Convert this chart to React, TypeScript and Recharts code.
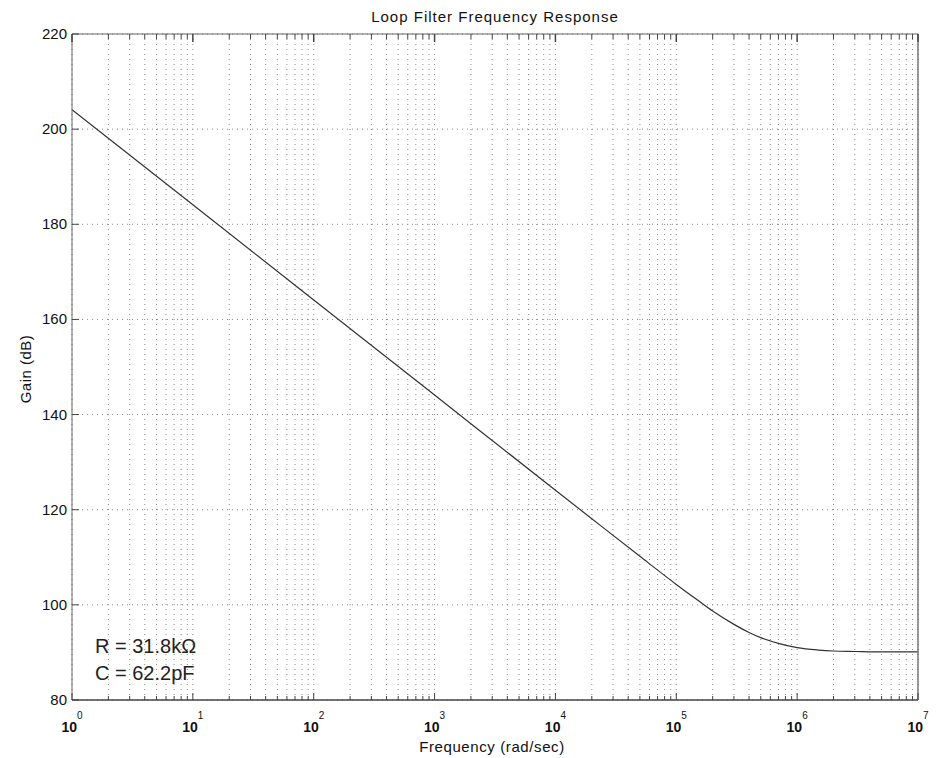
import React from "react";
import { LineChart, Line, XAxis, YAxis, CartesianGrid } from "recharts";

// Frequency (rad/sec) and gain (dB)
const freq = [1, 10, 100, 1000, 1e4, 2e4, 5e4, 1e5, 1.5e5, 2e5, 3e5, 4e5, 5e5, 7e5, 1e6, 1.5e6, 2e6, 3e6, 5e6, 1e7];
const gain = [204.1, 184.1, 164.1, 144.1, 124.1, 118.1, 110.2, 104.3, 101.0, 98.7, 95.9, 94.2, 93.1, 91.9, 91.0, 90.5, 90.3, 90.2, 90.1, 90.1];

const decadeExps = [0, 1, 2, 3, 4, 5, 6, 7];
const minorMult = [2, 3, 4, 5, 6, 7, 8, 9];
const yTicks = [80, 100, 120, 140, 160, 180, 200, 220];

const xTicks: number[] = [];
decadeExps.forEach((e) => {
  xTicks.push(Math.pow(10, e));
  if (e < 7) minorMult.forEach((m) => xTicks.push(m * Math.pow(10, e)));
});

const data = freq.map((f, i) => ({ f, g: gain[i] }));

const FONT = "'Liberation Sans', Arial, Helvetica, sans-serif";
const AX = "#444";

const isMajor = (v: number) => {
  const l = Math.log10(v);
  return Math.abs(l - Math.round(l)) < 1e-9;
};

const BottomTick = (props: any) => {
  const { x, y, payload } = props;
  const v = payload.value;
  const major = isMajor(v);
  const exp = Math.round(Math.log10(v));
  return (
    <g>
      <line x1={x} x2={x} y1={y} y2={y - (major ? 7 : 4)} stroke={AX} strokeWidth={1} />
      {major && (
        <text x={x} y={y + 32} textAnchor="middle" fontFamily={FONT} fontSize={14} fontWeight="bold" fill="#111">
          <tspan>10</tspan>
          <tspan dy={-13} fontSize={10} fontWeight="normal">{exp}</tspan>
        </text>
      )}
    </g>
  );
};

const TopTick = (props: any) => {
  const { x, y, payload } = props;
  const major = isMajor(payload.value);
  return <line x1={x} x2={x} y1={y} y2={y + (major ? 8 : 5)} stroke={AX} strokeWidth={major ? 1.5 : 1} />;
};

const LeftTick = (props: any) => {
  const { x, y, payload } = props;
  return (
    <g>
      <line x1={x} x2={x + 7} y1={y} y2={y} stroke={AX} strokeWidth={1} />
      <text x={x - 5} y={y + 5} textAnchor="end" fontFamily={FONT} fontSize={15} fill="#111">
        {payload.value}
      </text>
    </g>
  );
};

const RightTick = (props: any) => {
  const { x, y } = props;
  return <line x1={x} x2={x - 7} y1={y} y2={y} stroke={AX} strokeWidth={1.5} />;
};

export default function App() {
  return (
    <div style={{ position: "fixed", left: 0, top: 0, width: 936, height: 758, background: "#fff" }}>
      <LineChart width={936} height={758} data={data} margin={{ top: 24, right: 8, bottom: 28, left: 32 }}>
        <CartesianGrid stroke="#8a8a8a" strokeDasharray="1 4" strokeWidth={1} />
        <XAxis
          dataKey="f"
          type="number"
          scale="log"
          domain={[1, 1e7]}
          allowDataOverflow
          ticks={xTicks}
          interval={0}
          height={30}
          tickSize={0}
          tickMargin={0}
          tickLine={false}
          axisLine={{ stroke: AX, strokeWidth: 1.5 }}
          tick={<BottomTick />}
        />
        <XAxis
          xAxisId="top"
          orientation="top"
          dataKey="f"
          type="number"
          scale="log"
          domain={[1, 1e7]}
          allowDataOverflow
          ticks={xTicks}
          interval={0}
          height={10}
          tickSize={0}
          tickMargin={0}
          tickLine={false}
          axisLine={{ stroke: "#666", strokeWidth: 1 }}
          tick={<TopTick />}
        />
        <YAxis
          type="number"
          domain={[80, 220]}
          ticks={yTicks}
          interval={0}
          width={40}
          tickSize={0}
          tickMargin={0}
          tickLine={false}
          axisLine={{ stroke: "#666", strokeWidth: 1 }}
          tick={<LeftTick />}
        />
        <YAxis
          yAxisId="right"
          orientation="right"
          type="number"
          domain={[80, 220]}
          ticks={yTicks}
          interval={0}
          width={10}
          tickSize={0}
          tickMargin={0}
          tickLine={false}
          axisLine={{ stroke: "#777", strokeWidth: 1.5 }}
          tick={<RightTick />}
        />
        <Line
          dataKey="g"
          type="monotone"
          stroke="#333"
          strokeWidth={1.2}
          dot={false}
          isAnimationActive={false}
        />
      </LineChart>
      <svg
        width={936}
        height={758}
        style={{ position: "absolute", left: 0, top: 0, pointerEvents: "none" }}
      >
        <text x={495} y={22} textAnchor="middle" fontFamily={FONT} fontSize={15} letterSpacing={1} fill="#111">
          Loop Filter Frequency Response
        </text>
        <text x={492} y={752} textAnchor="middle" fontFamily={FONT} fontSize={15} letterSpacing={0.6} fill="#111">
          Frequency (rad/sec)
        </text>
        <text
          x={0}
          y={0}
          transform="translate(31,369) rotate(-90)"
          textAnchor="middle"
          fontFamily={FONT}
          fontSize={15}
          letterSpacing={0.5}
          fill="#111"
        >
          Gain (dB)
        </text>
        <text x={95} y={653} fontFamily={FONT} fontSize={20} fill="#222">
          R = 31.8kΩ
        </text>
        <text x={95} y={680} fontFamily={FONT} fontSize={20} fill="#222">
          C = 62.2pF
        </text>
      </svg>
    </div>
  );
}
